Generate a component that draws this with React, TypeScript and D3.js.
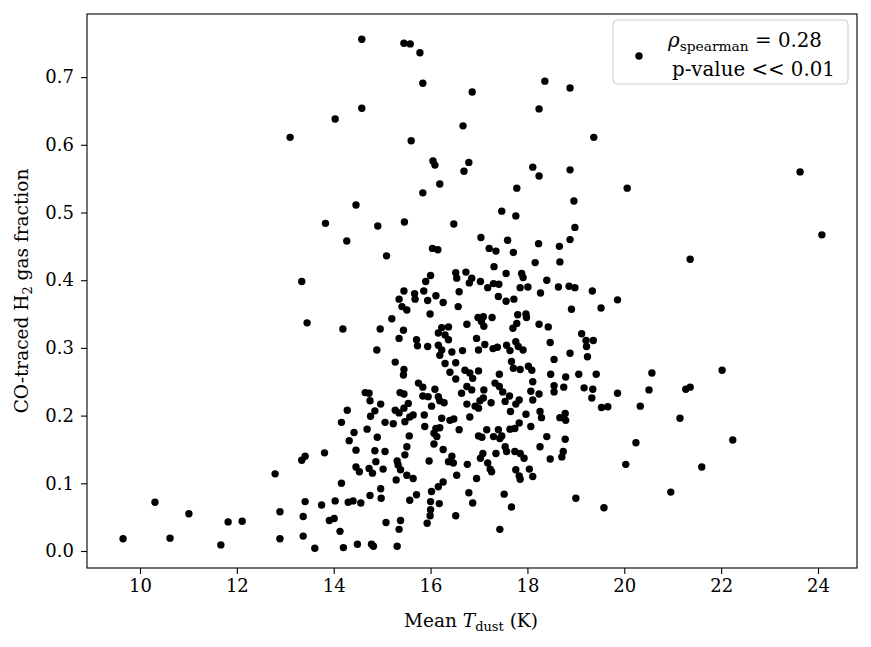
import React, { useEffect, useRef } from "react";
import * as d3 from "d3";

// [T_dust (K), CO-traced H2 gas fraction]
const coldTail = [
  [9.65, 0.018], [10.31, 0.072], [10.62, 0.019], [11.01, 0.055], [11.67, 0.009],
  [11.82, 0.043], [12.11, 0.044], [12.79, 0.114], [12.89, 0.058], [12.89, 0.018],
];

const highFraction = [
  [14.58, 0.756], [15.45, 0.75], [15.58, 0.749], [15.78, 0.736], [15.84, 0.691],
  [16.86, 0.678], [18.36, 0.694], [18.88, 0.684], [14.58, 0.654], [18.24, 0.653],
  [14.03, 0.638], [13.1, 0.611], [15.6, 0.606], [16.67, 0.628], [19.37, 0.611],
  [16.05, 0.576], [16.09, 0.57], [16.79, 0.574], [16.69, 0.561], [16.19, 0.542],
  [18.11, 0.567], [18.24, 0.554], [18.88, 0.563], [17.78, 0.536], [20.06, 0.536],
  [15.84, 0.529], [14.46, 0.511], [17.47, 0.502], [18.96, 0.517], [23.63, 0.56],
  [24.08, 0.467], [21.36, 0.431],
];

const upperCore = [
  [13.83, 0.484], [14.91, 0.48], [14.27, 0.458], [13.34, 0.398], [13.45, 0.337], [14.19, 0.328], [14.96, 0.328],
  [15.46, 0.486], [16.48, 0.483], [16.04, 0.447], [16.15, 0.445], [15.09, 0.436], [16.0, 0.407], [15.9, 0.398],
  [16.52, 0.411], [16.54, 0.403], [15.45, 0.384], [15.86, 0.384], [15.67, 0.38], [15.68, 0.372], [16.11, 0.377],
  [15.35, 0.372], [15.94, 0.37], [16.26, 0.367], [16.59, 0.383], [15.41, 0.361], [15.51, 0.356], [16.57, 0.361],
  [15.99, 0.35], [15.2, 0.343], [15.44, 0.326], [16.23, 0.33], [16.37, 0.331],
  [17.76, 0.495], [17.04, 0.463], [17.59, 0.459], [18.23, 0.454], [17.21, 0.447], [17.35, 0.443], [17.71, 0.441],
  [18.16, 0.426], [17.31, 0.42], [16.73, 0.412], [17.56, 0.41], [17.88, 0.41], [17.91, 0.404], [16.85, 0.403],
  [16.8, 0.396], [17.03, 0.398], [17.3, 0.395], [17.41, 0.394], [17.18, 0.389], [17.85, 0.389], [18.01, 0.39],
  [18.27, 0.381], [17.4, 0.376], [17.56, 0.369], [17.72, 0.372], [17.09, 0.346], [16.98, 0.345], [17.27, 0.345],
  [17.05, 0.339], [17.1, 0.332], [16.75, 0.335], [17.8, 0.349], [17.97, 0.35], [17.98, 0.345], [17.78, 0.336],
  [18.24, 0.335], [17.7, 0.329],
  [18.98, 0.478], [18.88, 0.46], [18.66, 0.45], [18.67, 0.427], [18.4, 0.4], [18.64, 0.39], [18.86, 0.391],
  [18.98, 0.389], [19.34, 0.384], [19.86, 0.371], [18.91, 0.357], [19.52, 0.359], [18.43, 0.331],
];

const middleCore = [
  [14.89, 0.297], [14.65, 0.234], [14.73, 0.233], [14.75, 0.222], [14.28, 0.208], [14.85, 0.207], [14.76, 0.199],
  [14.16, 0.19], [14.42, 0.175], [14.69, 0.18], [14.32, 0.163], [14.9, 0.168], [14.97, 0.217],
  [15.35, 0.314], [15.71, 0.312], [15.73, 0.303], [15.94, 0.302], [16.16, 0.322], [16.3, 0.319], [16.37, 0.312],
  [16.16, 0.304], [16.23, 0.297], [16.44, 0.294], [16.19, 0.289], [15.27, 0.279], [16.3, 0.277], [16.52, 0.278],
  [15.45, 0.268], [15.44, 0.26], [16.4, 0.264], [16.52, 0.254], [15.75, 0.248], [15.84, 0.242], [16.09, 0.239],
  [15.37, 0.234], [15.45, 0.232], [15.84, 0.229], [15.95, 0.228], [16.16, 0.228], [16.19, 0.222], [16.28, 0.219],
  [15.54, 0.218], [16.02, 0.214], [15.27, 0.208], [15.45, 0.211], [15.35, 0.204], [15.64, 0.201], [15.57, 0.198],
  [15.87, 0.201], [16.23, 0.196], [16.4, 0.193], [16.48, 0.195], [15.06, 0.19], [15.23, 0.188], [15.47, 0.191],
  [15.88, 0.184], [16.11, 0.181], [16.19, 0.182], [15.56, 0.17], [16.07, 0.174], [16.13, 0.169], [16.59, 0.179],
  [16.95, 0.314], [17.12, 0.305], [16.99, 0.297], [17.29, 0.299], [17.38, 0.301], [17.57, 0.304], [17.64, 0.296],
  [17.76, 0.309], [17.81, 0.302], [17.91, 0.297], [16.66, 0.296], [17.67, 0.28], [17.71, 0.27], [17.85, 0.268],
  [18.02, 0.273], [18.09, 0.267], [16.71, 0.267], [16.81, 0.263], [16.99, 0.266], [16.87, 0.255], [17.42, 0.261],
  [18.11, 0.25], [17.33, 0.248], [17.42, 0.243], [17.49, 0.235], [16.75, 0.243], [16.85, 0.238], [17.1, 0.238],
  [18.07, 0.236], [16.64, 0.233], [17.09, 0.226], [17.02, 0.222], [17.63, 0.229], [17.54, 0.221], [17.25, 0.219],
  [17.83, 0.223], [17.76, 0.217], [18.11, 0.223], [16.75, 0.217], [16.92, 0.214], [16.99, 0.211], [17.65, 0.206],
  [17.97, 0.202], [16.81, 0.198], [17.83, 0.189], [17.74, 0.181], [17.64, 0.18], [18.07, 0.184], [17.16, 0.179],
  [17.4, 0.179], [17.47, 0.17], [17.3, 0.169], [17.43, 0.166], [16.99, 0.17], [17.06, 0.168],
  [19.12, 0.321], [19.21, 0.311], [19.36, 0.311], [19.22, 0.302], [18.47, 0.308], [18.88, 0.292], [19.24, 0.287],
  [18.55, 0.283], [18.48, 0.261], [18.79, 0.257], [19.06, 0.261], [19.42, 0.261], [18.55, 0.244], [18.55, 0.235],
  [18.75, 0.242], [19.17, 0.241], [19.35, 0.239], [19.33, 0.226], [19.86, 0.233], [18.24, 0.232], [19.53, 0.212],
  [19.66, 0.213], [18.26, 0.206], [18.29, 0.197], [18.67, 0.197], [18.78, 0.203], [18.79, 0.193], [18.4, 0.169],
  [18.78, 0.165],
];

const lowerCore = [
  [14.85, 0.148], [14.46, 0.149], [13.41, 0.14], [13.34, 0.134], [13.81, 0.145], [14.87, 0.132], [14.46, 0.124],
  [14.53, 0.117], [14.73, 0.122], [14.8, 0.115], [14.16, 0.1], [14.97, 0.092], [14.75, 0.082], [13.41, 0.073],
  [13.75, 0.068], [14.03, 0.074], [14.3, 0.072], [14.4, 0.074], [14.56, 0.071], [14.98, 0.078], [13.37, 0.051],
  [13.91, 0.045], [14.01, 0.048], [14.13, 0.029], [13.37, 0.022], [13.61, 0.004], [14.2, 0.005], [14.49, 0.01],
  [14.78, 0.01], [14.82, 0.007],
  [15.51, 0.154], [15.06, 0.147], [15.47, 0.142], [16.07, 0.158], [16.26, 0.15], [16.44, 0.14], [16.37, 0.132],
  [16.47, 0.13], [15.97, 0.133], [15.31, 0.133], [15.33, 0.127], [16.54, 0.112], [15.02, 0.121], [15.38, 0.12],
  [15.51, 0.112], [15.64, 0.107], [15.29, 0.105], [16.26, 0.102], [16.16, 0.095], [16.02, 0.088], [15.71, 0.083],
  [15.57, 0.075], [16.0, 0.073], [16.18, 0.07], [16.0, 0.061], [15.99, 0.052], [15.93, 0.041], [16.52, 0.052],
  [15.08, 0.042], [15.38, 0.045], [15.35, 0.032], [15.31, 0.007],
  [18.26, 0.154], [17.54, 0.154], [17.57, 0.147], [17.35, 0.144], [17.08, 0.144], [17.03, 0.137], [17.74, 0.147],
  [17.85, 0.144], [17.93, 0.137], [16.76, 0.128], [17.18, 0.13], [17.23, 0.121], [17.26, 0.117], [17.76, 0.12],
  [17.83, 0.111], [17.85, 0.106], [18.04, 0.121], [18.11, 0.11], [16.95, 0.107], [16.79, 0.086], [17.52, 0.084],
  [16.87, 0.071], [17.67, 0.065], [17.43, 0.032],
  [18.47, 0.136], [18.74, 0.147], [18.71, 0.139], [19.0, 0.078], [19.58, 0.064],
];

const hotTail = [
  [20.03, 0.128], [20.24, 0.16], [20.33, 0.214], [20.51, 0.238], [20.57, 0.263], [20.96, 0.087],
  [21.15, 0.196], [21.27, 0.239], [21.36, 0.242], [21.6, 0.124], [22.02, 0.267], [22.24, 0.164],
];

const xTicks = [10, 12, 14, 16, 18, 20, 22, 24];
const yTicks = [0, 0.1, 0.2, 0.3, 0.4, 0.5, 0.6, 0.7];

const FONT = "DejaVu Serif";

const App = () => {
  const ref = useRef(null);

  useEffect(() => {
    const svg = d3.select(ref.current);
    svg.selectAll("*").remove();

    const left = 87, top = 14, right = 857, bottom = 568;
    const x = d3.scaleLinear().domain([8.906, 24.805]).range([left, right]);
    const y = d3.scaleLinear().domain([-0.0251, 0.7932]).range([bottom, top]);

    const points = [...coldTail, ...highFraction, ...upperCore, ...middleCore, ...lowerCore, ...hotTail];

    svg.append("g")
      .selectAll("circle")
      .data(points)
      .enter()
      .append("circle")
      .attr("cx", d => x(d[0]))
      .attr("cy", d => y(d[1]))
      .attr("r", 3.7)
      .attr("fill", "black");

    const xAxis = svg.append("g")
      .attr("transform", `translate(0,${bottom})`)
      .call(d3.axisBottom(x).tickValues(xTicks).tickSize(6).tickPadding(5).tickFormat(d3.format("d")));
    const yAxis = svg.append("g")
      .attr("transform", `translate(${left},0)`)
      .call(d3.axisLeft(y).tickValues(yTicks).tickSize(6).tickPadding(7).tickFormat(d3.format(".1f")));

    [xAxis, yAxis].forEach(g => {
      g.select(".domain").remove();
      g.selectAll("line").attr("stroke", "black").attr("stroke-width", 1.1);
      g.selectAll("text")
        .attr("fill", "black")
        .style("font-family", FONT)
        .style("font-size", "18px");
    });

    svg.append("rect")
      .attr("x", left)
      .attr("y", top)
      .attr("width", right - left)
      .attr("height", bottom - top)
      .attr("fill", "none")
      .attr("stroke", "black")
      .attr("stroke-width", 1.1);

    // axis labels
    const xLabel = svg.append("text")
      .attr("x", 471)
      .attr("y", 627)
      .attr("text-anchor", "middle")
      .style("font-family", FONT)
      .style("font-size", "18.5px");
    xLabel.append("tspan").text("Mean ");
    xLabel.append("tspan").style("font-style", "italic").text("T");
    xLabel.append("tspan").attr("dy", 4).style("font-size", "13px").text("dust");
    xLabel.append("tspan").attr("dy", -4).text(" (K)");

    const yLabel = svg.append("text")
      .attr("transform", `translate(28,${(top + bottom) / 2}) rotate(-90)`)
      .attr("text-anchor", "middle")
      .style("font-family", FONT)
      .style("font-size", "18.5px");
    yLabel.append("tspan").text("CO-traced H");
    yLabel.append("tspan").attr("dy", 4).style("font-size", "13px").text("2");
    yLabel.append("tspan").attr("dy", -4).text(" gas fraction");

    // legend
    const legend = svg.append("g");
    legend.append("rect")
      .attr("x", 613)
      .attr("y", 20)
      .attr("width", 235)
      .attr("height", 64)
      .attr("rx", 4)
      .attr("fill", "white")
      .attr("fill-opacity", 0.8)
      .attr("stroke", "#cccccc")
      .attr("stroke-width", 1);
    legend.append("circle").attr("cx", 639).attr("cy", 56).attr("r", 3.7).attr("fill", "black");

    const line1 = legend.append("text")
      .attr("x", 668)
      .attr("y", 47)
      .style("font-family", FONT)
      .style("font-size", "19.8px");
    line1.append("tspan").style("font-style", "italic").text("ρ");
    line1.append("tspan").attr("dy", 4).style("font-size", "13.8px").text("spearman");
    line1.append("tspan").attr("dy", -4).text(" = 0.28");

    legend.append("text")
      .attr("x", 672)
      .attr("y", 76)
      .style("font-family", FONT)
      .style("font-size", "19.8px")
      .text("p-value << 0.01");
  }, []);

  return (
    <div style={{ position: "absolute", left: 0, top: 0 }}>
      <svg ref={ref} width={871} height={647} />
    </div>
  );
};

export default App;
